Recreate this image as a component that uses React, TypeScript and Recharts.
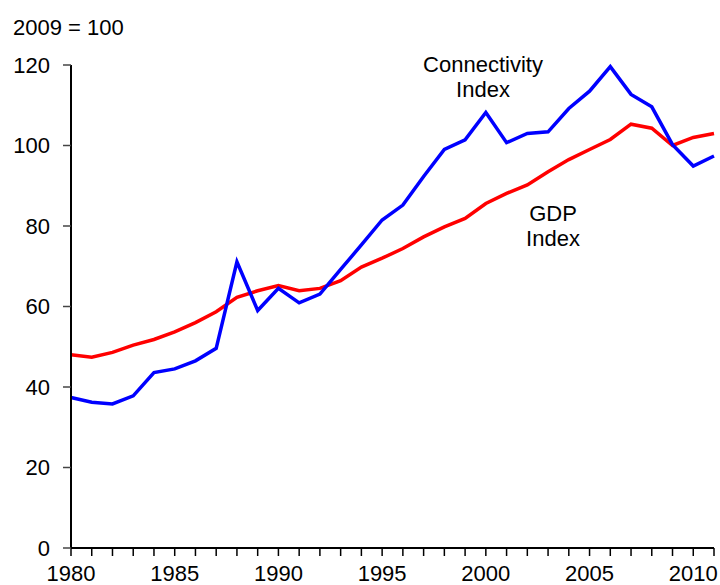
import React from 'react';
import { LineChart, Line, XAxis, YAxis } from 'recharts';

const years = Array.from({ length: 32 }, (_, i) => 1980 + i);

const connectivity = [
  37.4, 36.2, 35.8, 37.8, 43.6, 44.5, 46.5, 49.6, 71.1, 59.0,
  64.5, 60.9, 63.1, 69.2, 75.3, 81.5, 85.2, 92.3, 99.0, 101.4,
  108.2, 100.7, 103.0, 103.4, 109.2, 113.5, 119.6, 112.7, 109.6, 100.2,
  94.9, 97.4,
];

const gdp = [
  48.0, 47.4, 48.6, 50.4, 51.8, 53.7, 56.0, 58.7, 62.3, 63.9,
  65.2, 63.9, 64.5, 66.4, 69.8, 72.0, 74.4, 77.3, 79.8, 81.9,
  85.6, 88.1, 90.2, 93.5, 96.5, 99.0, 101.5, 105.3, 104.3, 100.0,
  102.0, 103.0,
];

const yTicks = [0, 20, 40, 60, 80, 100, 120];

const data = years.map((year, i) => ({ year, connectivity: connectivity[i], gdp: gdp[i] }));

const FONT = '"Liberation Sans", Arial, Helvetica, sans-serif';

export default function App() {
  const tickStyle = { fill: '#000', fontSize: 22, fontFamily: FONT };
  const note: React.CSSProperties = {
    position: 'absolute',
    fontFamily: FONT,
    fontSize: 22,
    lineHeight: '25px',
    color: '#000',
    textAlign: 'center',
    whiteSpace: 'nowrap',
  };

  return (
    <div style={{ position: 'absolute', left: 0, top: 0, width: 720, height: 585, background: '#fff' }}>
      <LineChart
        width={720}
        height={585}
        data={data}
        margin={{ top: 65, right: 6, bottom: 0, left: 0 }}
      >
        <XAxis
          dataKey="year"
          type="number"
          domain={[1980, 2011]}
          ticks={years}
          interval={0}
          tickFormatter={(v: number) => (v % 5 === 0 ? String(v) : '')}
          height={37}
          tickSize={8}
          tickMargin={9}
          axisLine={{ stroke: '#000', strokeWidth: 2 }}
          tickLine={{ stroke: '#000', strokeWidth: 1.5 }}
          tick={tickStyle}
        />
        <YAxis
          domain={[0, 120]}
          ticks={yTicks}
          interval={0}
          width={71}
          tickSize={8}
          tickMargin={13}
          axisLine={{ stroke: '#000', strokeWidth: 2 }}
          tickLine={{ stroke: '#444', strokeWidth: 1.5 }}
          tick={tickStyle}
        />
        <Line
          dataKey="gdp"
          stroke="#ff0000"
          strokeWidth={3.5}
          dot={false}
          isAnimationActive={false}
        />
        <Line
          dataKey="connectivity"
          stroke="#0000ff"
          strokeWidth={3.5}
          dot={false}
          isAnimationActive={false}
        />
      </LineChart>
      <div style={{ ...note, left: 13, top: 15, textAlign: 'left' }}>2009 = 100</div>
      <div style={{ ...note, left: 383, top: 52, width: 200 }}>
        Connectivity
        <br />
        Index
      </div>
      <div style={{ ...note, left: 453, top: 201, width: 200 }}>
        GDP
        <br />
        Index
      </div>
    </div>
  );
}
